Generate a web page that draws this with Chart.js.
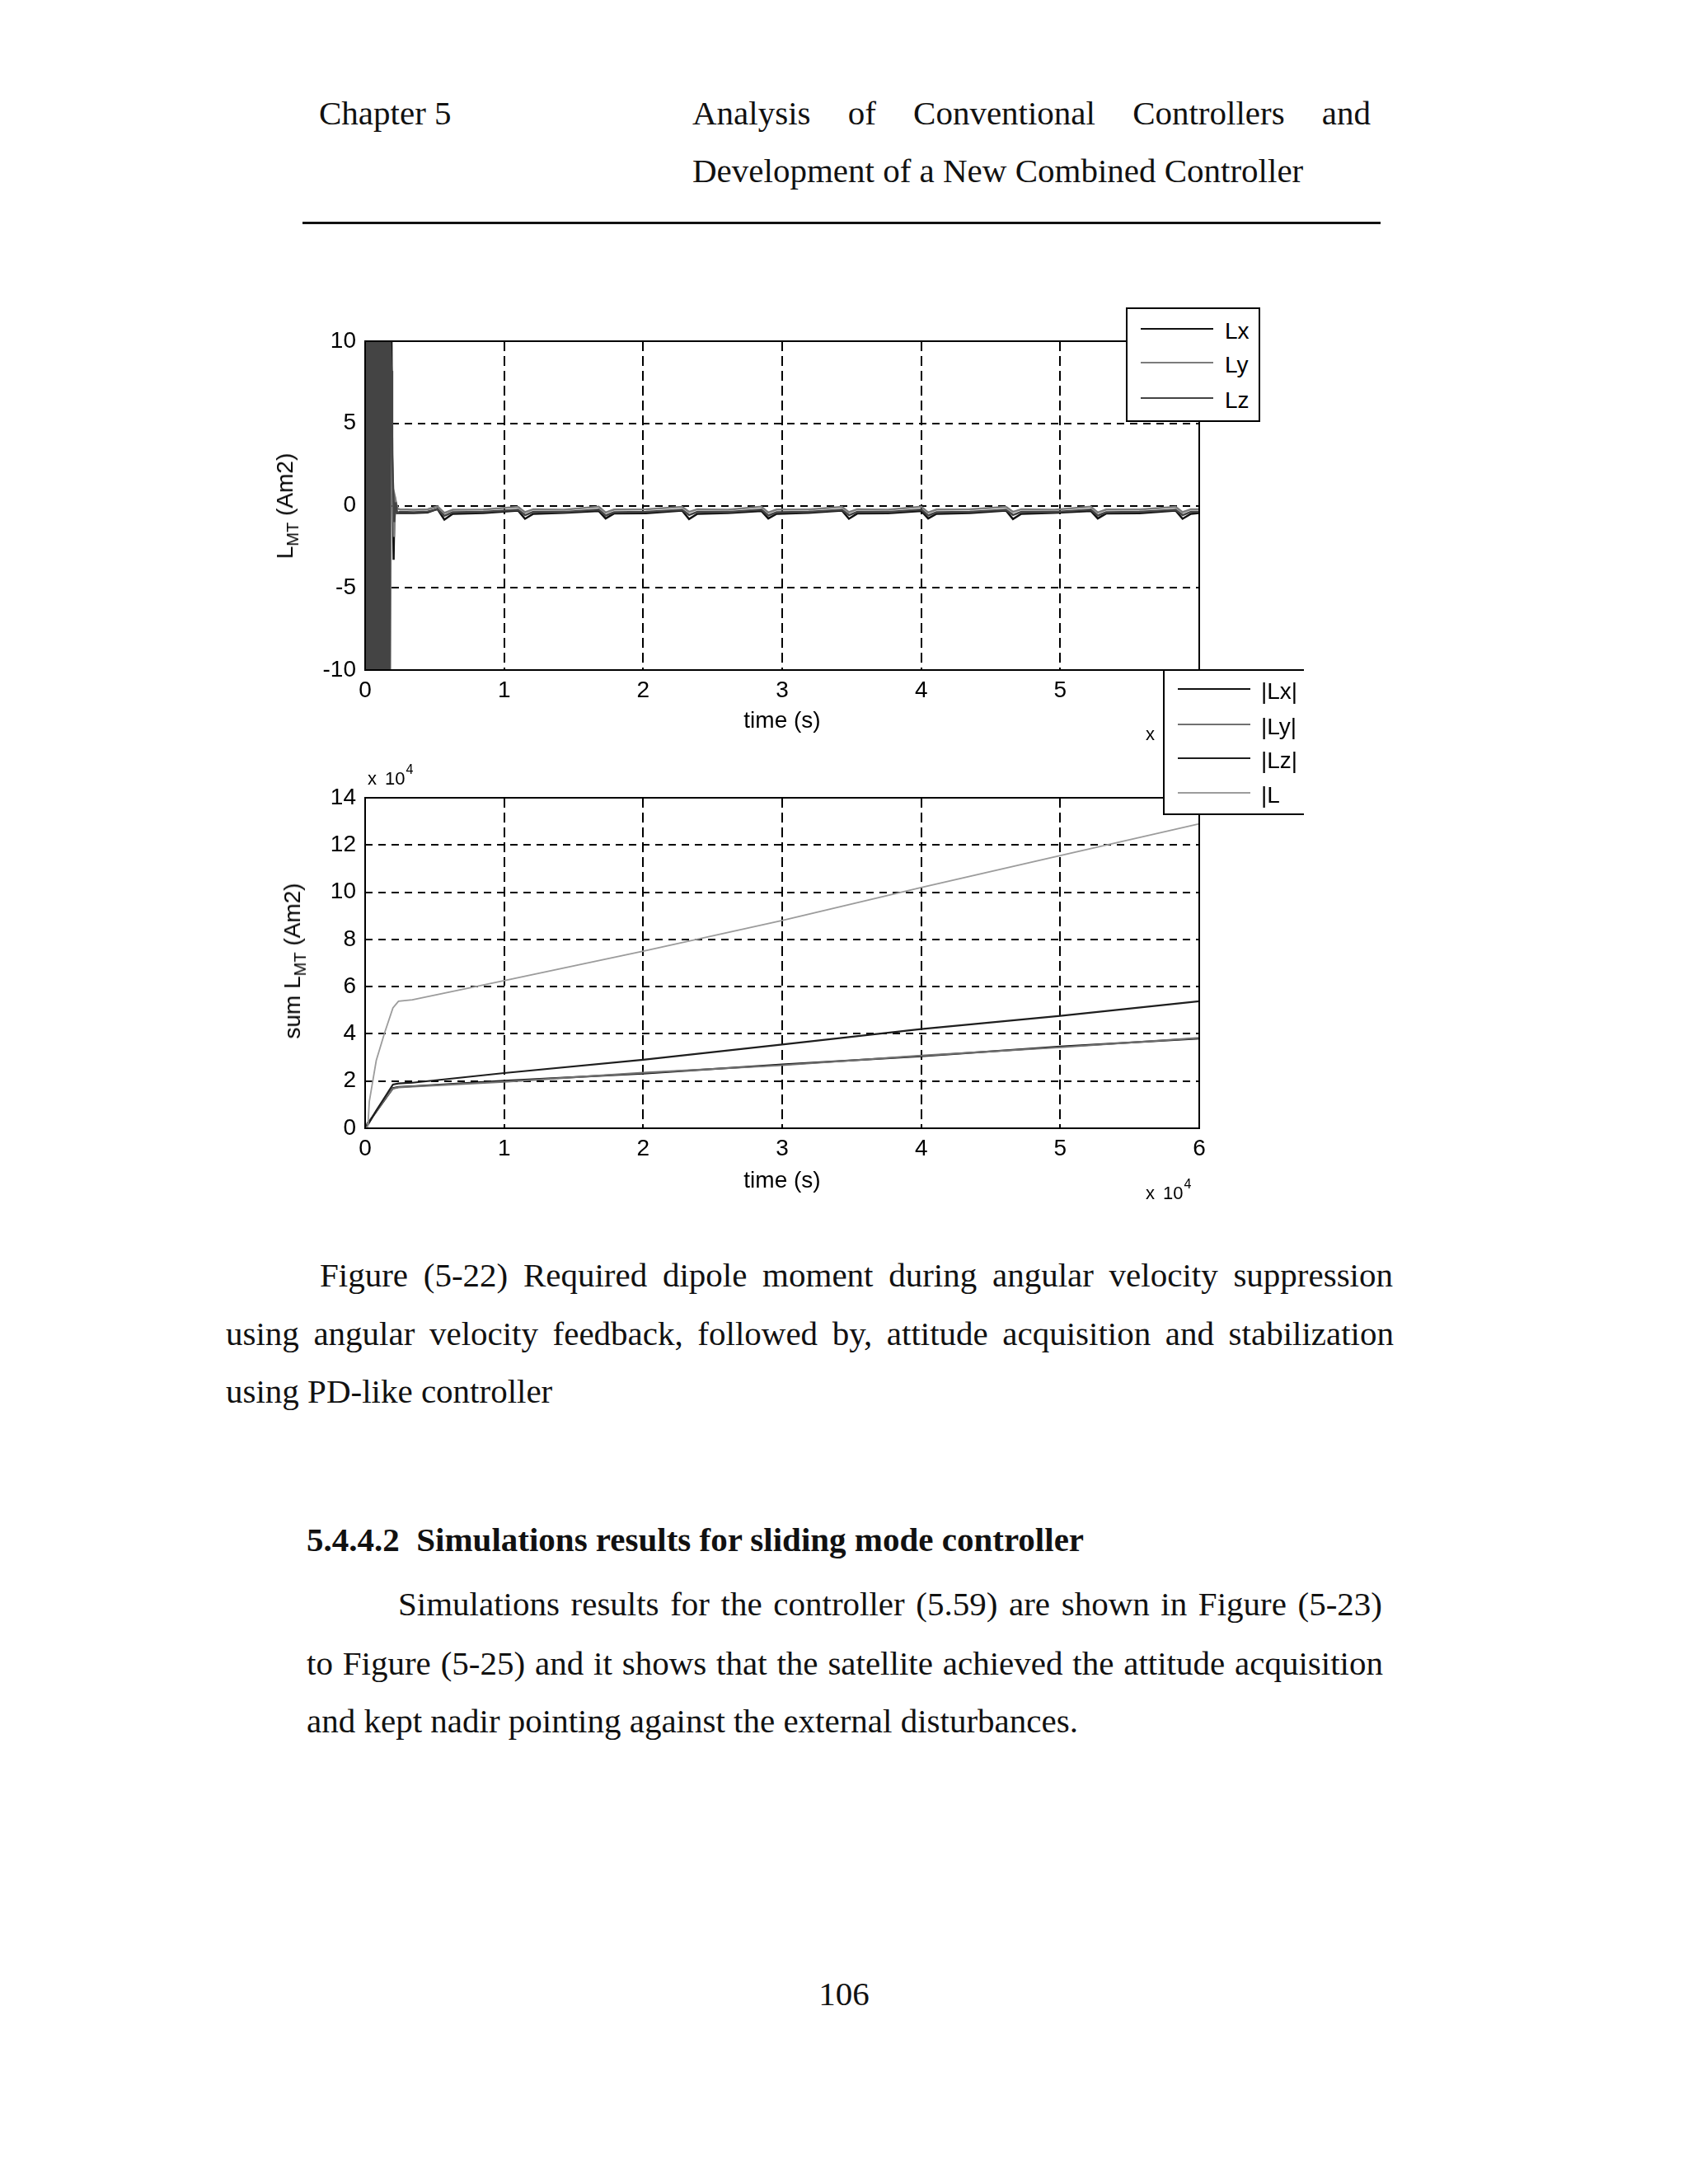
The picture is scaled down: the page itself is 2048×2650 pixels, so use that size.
<!DOCTYPE html>
<html>
<head>
<meta charset="utf-8">
<script src="https://cdn.jsdelivr.net/npm/chart.js@4.4.0/dist/chart.umd.min.js"></script>
<style>
html,body{margin:0;padding:0;background:#fff;}
#page{position:relative;width:2048px;height:2650px;overflow:hidden;background:#fff;color:#111;font-family:'Liberation Serif','Times New Roman',serif;}
.t{position:absolute;font-size:41px;line-height:41px;white-space:nowrap;}
.j{position:absolute;font-size:41px;line-height:41px;text-align:justify;text-align-last:justify;}
.b{font-weight:bold;}
.s{position:absolute;font-family:'Liberation Sans',Arial,sans-serif;white-space:nowrap;color:#000;}
canvas{position:absolute;z-index:1;}
.ylab{font-size:28px;line-height:28px;transform:translate(-50%,-50%) rotate(-90deg);z-index:2;}
.sub{font-size:20px;position:relative;top:7px;}
.exp{font-size:22px;line-height:22px;word-spacing:4px;z-index:2;}
.sup{font-size:16px;position:relative;top:-13px;margin-left:1px;}
.lgbox{position:absolute;background:#fff;box-sizing:border-box;z-index:5;}
.lgline{position:absolute;height:2px;z-index:6;}
.lgtxt{position:absolute;font-family:'Liberation Sans',Arial,sans-serif;font-size:28px;line-height:28px;color:#000;white-space:nowrap;z-index:6;}
</style>
</head>
<body>
<div id="page">
  <div class="t" style="left:387px;top:117px;">Chapter 5</div>
  <div class="j" style="left:840px;top:117px;width:823px;">Analysis of Conventional Controllers and</div>
  <div class="t" style="left:840px;top:187px;">Development of a New Combined Controller</div>
  <div style="position:absolute;left:367px;top:269px;width:1308px;height:3px;background:#111;"></div>

  <canvas id="topChart" width="1250" height="560" style="left:300px;top:340px;width:1250px;height:560px;"></canvas>
  <canvas id="sumChart" width="1250" height="620" style="left:300px;top:900px;width:1250px;height:620px;"></canvas>

  <div class="s ylab" style="left:347px;top:614px;">L<span class="sub">MT</span> (Am2)</div>
  <div class="s ylab" style="left:356px;top:1166px;">sum L<span class="sub">MT</span> (Am2)</div>

  <div class="s exp" style="left:1390px;top:880px;">x 10<span class="sup">4</span></div>
  <div class="s exp" style="left:446px;top:934px;">x 10<span class="sup">4</span></div>
  <div class="s exp" style="left:1390px;top:1437px;">x 10<span class="sup">4</span></div>

  <div class="j" style="left:388px;top:1527px;width:1302px;">Figure (5-22) Required dipole moment during angular velocity suppression</div>
  <div class="j" style="left:274px;top:1598px;width:1417px;">using angular velocity feedback, followed by, attitude acquisition and stabilization</div>
  <div class="t" style="left:274px;top:1668px;">using PD-like controller</div>

  <div class="t b" style="left:372px;top:1848px;">5.4.4.2&nbsp;&nbsp;Simulations results for sliding mode controller</div>
  <div class="j" style="left:483px;top:1926px;width:1194px;">Simulations results for the controller (5.59) are shown in Figure (5-23)</div>
  <div class="j" style="left:372px;top:1998px;width:1306px;">to Figure (5-25) and it shows that the satellite achieved the attitude acquisition</div>
  <div class="t" style="left:372px;top:2068px;">and kept nadir pointing against the external disturbances.</div>

  <div class="t" style="left:0;top:2399px;width:2048px;text-align:center;">106</div>
</div>

<script>
// ---------------- DATA: top plot, L_MT (Am2) vs time (s) ----------------
const blockTime = [0,50,100,150,200,250,300,350,400,450,500,550,600,650,700,750,800,850,900,950,1000,1050,1100,1150,1200,1250,1300,1350,1400,1450,1500,1550,1600,1650,1700,1750,1800];
const lxBlock = [10,-10,10,-10,10,-10,10,-10,10,-10,10,-10,10,-10,10,-10,10,-10,10,-10,10,-10,10,-10,10,-10,10,-10,10,-10,10,-10,10,-10,10,-10,10];
const lyBlock = [-10,10,-10,10,-10,10,-10,10,-10,10,-10,10,-10,10,-10,10,-10,10,-10,10,-10,10,-10,10,-10,10,-10,10,-10,10,-10,10,-10,10,-10,10,-10];
const lzBlock = [10,-10,10,-10,10,-10,10,-10,10,-10,10,-10,10,-10,10,-10,10,-10,10,-10,10,-10,10,-10,10,-10,10,-10,10,-10,10,-10,10,-10,10,-10,10];

const lxTransTime = [1900, 1960, 2050, 2120, 2200, 2300];
const lxTrans     = [10, 2.0, -3.3, 0.6, -0.2, -0.45];
const lyTransTime = [1880, 1980, 2080, 2150, 2250, 2350];
const lyTrans     = [5.5, 1.8, -1.9, 0.5, 0.1, -0.2];
const lzTransTime = [1900, 1950, 2000, 2100, 2200, 2300];
const lzTrans     = [8.2, 3.0, 1.5, -1.0, 0.2, -0.45];

const settleTime = [2500,3500,4500,5200,5700,6300,8500,11000,11500,12100,14300,16800,17300,17900,20200,22800,23300,23900,26100,28500,29000,29600,31900,34300,34800,35400,37600,40000,40500,41100,43500,46100,46600,47200,49600,52200,52700,53300,55700,58300,58800,59400,60000];
const lxSettle = [-0.45,-0.45,-0.42,-0.2,-0.85,-0.5,
  -0.45,-0.3,-0.8,-0.5, -0.44,-0.32,-0.78,-0.48, -0.46,-0.3,-0.82,-0.5,
  -0.45,-0.32,-0.78,-0.5, -0.44,-0.3,-0.8,-0.48, -0.46,-0.32,-0.78,-0.5,
  -0.45,-0.3,-0.82,-0.5, -0.44,-0.32,-0.78,-0.48, -0.46,-0.3,-0.8,-0.5, -0.45];
const lySettle = [-0.22,-0.25,-0.22,-0.05,-0.45,-0.25,
  -0.24,-0.08,-0.4,-0.22, -0.25,-0.06,-0.42,-0.24, -0.23,-0.08,-0.38,-0.22,
  -0.25,-0.06,-0.42,-0.24, -0.24,-0.08,-0.4,-0.22, -0.25,-0.06,-0.42,-0.24,
  -0.23,-0.08,-0.38,-0.22, -0.25,-0.06,-0.42,-0.24, -0.24,-0.08,-0.4,-0.22, -0.23];
const lzSettle = [-0.38,-0.4,-0.36,-0.22,-0.62,-0.4,
  -0.37,-0.25,-0.58,-0.38, -0.39,-0.24,-0.6,-0.4, -0.37,-0.25,-0.57,-0.38,
  -0.39,-0.24,-0.6,-0.4, -0.37,-0.25,-0.58,-0.38, -0.39,-0.24,-0.6,-0.4,
  -0.37,-0.25,-0.57,-0.38, -0.39,-0.24,-0.6,-0.4, -0.37,-0.25,-0.58,-0.38, -0.38];

const topLabels = ['Lx', 'Ly', 'Lz'];

// ---------------- DATA: bottom plot, sum L_MT (Am2) vs time (s) ----------------
const sumTime = [0, 200, 300, 800, 1400, 2000, 2400, 3400, 10000, 20000, 30000, 40000, 50000, 60000];
const sumLx = [0, 2500, 3000, 7000, 12000, 17000, 17500, 17800, 20100, 23200, 27000, 30500, 34600, 38000];
const sumLy = [0, 2000, 2800, 7200, 12300, 16800, 17300, 17700, 19700, 23500, 26700, 30800, 34300, 38300];
const sumLz = [0, 1500, 2500, 7500, 13000, 18500, 19000, 19300, 23400, 29000, 35500, 42000, 47600, 53800];
const sumL  = [0, 800, 11300, 28700, 40400, 51000, 53800, 54400, 62500, 75000, 88000, 102000, 115500, 129000];

const sumLabels = ['|Lx|', '|Ly|', '|Lz|', '|L'];

// ---------------- styles ----------------
const topStyle = [
  {color:'#111111', width:2.5, order:2},
  {color:'#7c7c7c', width:2.5, order:1},
  {color:'#444444', width:2.5, order:0}
];
const sumStyle = [
  {color:'#111111', width:2.2, order:3},
  {color:'#707070', width:2.2, order:2},
  {color:'#1e1e1e', width:2.2, order:1},
  {color:'#9c9c9c', width:1.8, order:0}
];

function series(times, values) { return times.map((t, i) => ({x: t, y: values[i]})); }

const framePlugin = {
  id: 'frame',
  afterDatasetsDraw(chart) {
    const {ctx, chartArea: a} = chart;
    ctx.save();
    ctx.strokeStyle = '#000';
    ctx.lineWidth = 2;
    ctx.strokeRect(a.left, a.top, a.right - a.left, a.bottom - a.top);
    ctx.restore();
  }
};

const tickFont = {family: "'Liberation Sans', Arial, sans-serif", size: 28};

function axesOptions(o) {
  return {
    responsive: false,
    animation: false,
    devicePixelRatio: 1,
    layout: {padding: o.pad},
    elements: {point: {radius: 0}, line: {tension: 0}},
    plugins: {legend: {display: false}, tooltip: {enabled: false}},
    scales: {
      x: {
        type: 'linear', min: 0, max: 60000,
        ticks: {stepSize: 10000, autoSkip: false, maxRotation: 0, padding: 8, color: '#000', font: tickFont,
                callback: v => String(v / 10000)},
        grid: {color: '#000', lineWidth: 2, drawTicks: false},
        border: {display: false, dash: [12, 6]},
        title: {display: true, text: 'time (s)', color: '#000', font: tickFont, padding: {top: 0, bottom: o.titlePad}},
        afterFit: s => { s.height = o.xAxisHeight; }
      },
      y: {
        type: 'linear', min: o.yMin, max: o.yMax,
        ticks: {stepSize: o.yStep, autoSkip: false, padding: 11, color: '#000', font: tickFont, callback: o.yFmt},
        grid: {color: '#000', lineWidth: 2, drawTicks: false},
        border: {display: false, dash: [9, 7]},
        afterFit: s => { s.width = 143; }
      }
    }
  };
}

const topTimes = [
  [...blockTime, ...lxTransTime, ...settleTime],
  [...blockTime, ...lyTransTime, ...settleTime],
  [...blockTime, ...lzTransTime, ...settleTime]
];
const topValues = [
  [...lxBlock, ...lxTrans, ...lxSettle],
  [...lyBlock, ...lyTrans, ...lySettle],
  [...lzBlock, ...lzTrans, ...lzSettle]
];

new Chart(document.getElementById('topChart'), {
  type: 'line',
  data: {datasets: topLabels.map((lab, i) => ({
    label: lab, data: series(topTimes[i], topValues[i]),
    borderColor: topStyle[i].color, borderWidth: topStyle[i].width, order: topStyle[i].order, fill: false
  }))},
  options: axesOptions({yMin: -10, yMax: 10, yStep: 5, yFmt: v => String(v),
    xAxisHeight: 87, titlePad: 8, pad: {top: 74, right: 95, left: 0, bottom: 0}}),
  plugins: [framePlugin]
});

const sumValues = [sumLx, sumLy, sumLz, sumL];
new Chart(document.getElementById('sumChart'), {
  type: 'line',
  data: {datasets: sumLabels.map((lab, i) => ({
    label: lab, data: series(sumTime, sumValues[i]),
    borderColor: sumStyle[i].color, borderWidth: sumStyle[i].width, order: sumStyle[i].order, fill: false
  }))},
  options: axesOptions({yMin: 0, yMax: 140000, yStep: 20000, yFmt: v => String(v / 10000),
    xAxisHeight: 151, titlePad: 70, pad: {top: 68, right: 95, left: 0, bottom: 0}}),
  plugins: [framePlugin]
});

// ---------------- MATLAB-style legends (HTML, on top of the axes) ----------------
function htmlLegend(labels, styles, L) {
  const page = document.getElementById('page');
  const box = document.createElement('div');
  box.className = 'lgbox';
  box.style.cssText = `left:${L.left}px;top:${L.top}px;width:${L.width}px;height:${L.height}px;` +
    `border:2px solid #000;${L.noRight ? 'border-right:none;' : ''}`;
  page.appendChild(box);
  labels.forEach((lab, i) => {
    const y = L.rows[i];
    const ln = document.createElement('div');
    ln.className = 'lgline';
    ln.style.cssText = `left:${L.lineX0}px;top:${y - 1}px;width:${L.lineX1 - L.lineX0}px;background:${styles[i].color};`;
    page.appendChild(ln);
    const tx = document.createElement('div');
    tx.className = 'lgtxt';
    tx.style.cssText = `left:${L.textX}px;top:${y - 11}px;`;
    tx.textContent = lab;
    page.appendChild(tx);
  });
}
htmlLegend(topLabels, topStyle, {left: 1366, top: 373, width: 163, height: 139,
  rows: [399, 440, 483], lineX0: 1384, lineX1: 1472, textX: 1486});
htmlLegend(sumLabels, sumStyle, {left: 1411, top: 812, width: 171, height: 177, noRight: true,
  rows: [836, 879, 920, 962], lineX0: 1429, lineX1: 1517, textX: 1530});
</script>
</body>
</html>
